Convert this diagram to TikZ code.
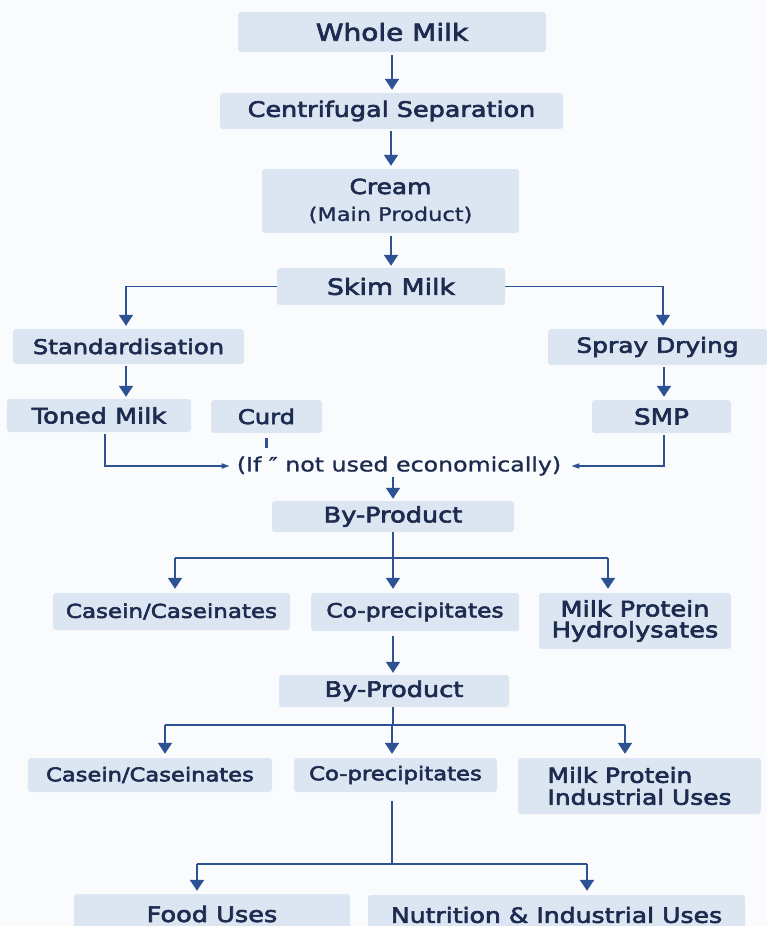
\documentclass[tikz,border=0pt]{standalone}
\usepackage{fontspec}
\setmainfont{DejaVu Sans}[FakeStretch=1.2, FakeBold=3]
\newfontfamily\reg{DejaVu Sans}[FakeStretch=1.2, FakeBold=1.2]
\usetikzlibrary{arrows.meta}
\definecolor{bg}{HTML}{FAFBFC}
\definecolor{boxfill}{HTML}{DCE6F2}
\definecolor{txt}{HTML}{1C2B4F}
\definecolor{arr}{HTML}{2C5294}
\newcommand\fs[2]{\fontsize{#1}{#2}\selectfont}
\begin{document}
\begin{tikzpicture}[x=1bp,y=-1bp,
  box/.style={fill=boxfill, rounded corners=3bp, inner sep=0pt, text=txt, align=center},
  conn/.style={draw=arr, line width=1.8bp},
  tip/.style={-{Triangle[width=14bp,length=11bp]}},
  stip/.style={-{Triangle[width=5bp,length=8bp]}}]
\fill[bg] (0,0) rectangle (767,926);
\useasboundingbox (0,0) rectangle (767,926);

% nodes
\node[box, minimum width=308bp, minimum height=40bp, font=\fs{23.4}{26}] (whole) at (392,32) {Whole Milk};
\node[box, minimum width=343bp, minimum height=36bp, font=\fs{21.3}{24}] (cent) at (391.5,111) {Centrifugal Separation};
\node[box, minimum width=257bp, minimum height=64bp, font=\fs{20.8}{27}] (cream) at (390.5,201) {Cream\\[0bp]{\reg\fs{18.8}{22}(Main Product)}};
\node[box, minimum width=228bp, minimum height=37bp, font=\fs{22.4}{24}] (skim) at (391,286.5) {Skim Milk};
\node[box, minimum width=231bp, minimum height=35bp, font=\fs{20.3}{22}] (stand) at (128.5,346.5) {Standardisation};
\node[box, minimum width=219bp, minimum height=36bp, font=\fs{20.8}{22}] (spray) at (657.5,347) {Spray Drying};
\node[box, minimum width=184bp, minimum height=33bp, font=\fs{21.4}{22}] (toned) at (99,415.5) {Toned Milk};
\node[box, minimum width=111bp, minimum height=33bp, font=\fs{20.3}{22}] (curd) at (266.5,416.5) {Curd};
\node[box, minimum width=139bp, minimum height=33bp, font=\fs{21.9}{22}] (smp) at (661.5,416.5) {SMP};
\node[inner sep=0pt, text=txt, font=\reg\fs{19.8}{22}] (cond) at (399,466) {(If ″ not used economically)};
\node[box, minimum width=242bp, minimum height=31bp, font=\fs{21.4}{22}] (by1) at (393,516.5) {By-Product};
\node[box, minimum width=237bp, minimum height=37bp, font=\fs{19.2}{21}] (casein1) at (171.5,611.5) {Casein/Caseinates};
\node[box, minimum width=208bp, minimum height=38bp, font=\fs{19.5}{21}] (coprec1) at (415,612) {Co-precipitates};
\node[box, minimum width=192bp, minimum height=56bp, font=\fs{21.4}{21}] (mph) at (635,621) {Milk Protein\\Hydrolysates};
\node[box, minimum width=230bp, minimum height=32bp, font=\fs{21.4}{22}] (by2) at (394,691) {By-Product};
\node[box, minimum width=244bp, minimum height=34bp, font=\fs{18.9}{21}] (casein2) at (150,775) {Casein/Caseinates};
\node[box, minimum width=203bp, minimum height=34bp, font=\fs{19}{21}] (coprec2) at (395.5,775) {Co-precipitates};
\node[box, minimum width=243bp, minimum height=56bp, align=left, font=\fs{20.8}{22}] (mpi) at (639.5,786) {Milk Protein\\Industrial Uses};
\node[box, minimum width=276bp, minimum height=40bp, font=\fs{21.4}{22}] (food) at (212,914) {Food Uses};
\node[box, minimum width=377bp, minimum height=40bp, font=\fs{21}{22}] (nutr) at (556.5,915) {Nutrition \& Industrial Uses};

% junction coordinates
\coordinate (j1) at (393,558);
\coordinate (j1l) at (175,558);
\coordinate (j1r) at (608,558);
\coordinate (j2) at (393,725);
\coordinate (j2l) at (165,725);
\coordinate (j2r) at (625,725);
\coordinate (j3) at (392,864);
\coordinate (j3l) at (197,864);
\coordinate (j3r) at (587,864);

% connectors
\draw[conn,tip,shorten <=3bp,shorten >=3bp] (whole.south) -- (whole.south |- cent.north);
\draw[conn,tip,shorten <=2bp,shorten >=3bp] (391,0 |- cent.south) -- (391,0 |- cream.north);
\draw[conn,tip,shorten <=3bp,shorten >=2bp] (391,0 |- cream.south) -- (391,0 |- skim.north);
\draw[conn,tip,shorten >=3bp] (skim.west) -| (126,0 |- stand.north);
\draw[conn,tip,shorten >=3bp] (skim.east) -| (663,0 |- spray.north);
\draw[conn,tip,shorten <=2bp,shorten >=2bp] (126,0 |- stand.south) -- (126,0 |- toned.north);
\draw[conn,tip,shorten <=2bp,shorten >=3bp] (664,0 |- spray.south) -- (664,0 |- smp.north);
\draw[conn,line width=1.6bp,stip,shorten <=2bp,shorten >=7bp] (105,0 |- toned.south) |- (cond.west);
\draw[conn,line width=1.6bp,stip,shorten <=2bp,shorten >=10bp] (664,0 |- smp.south) |- (cond.east);
\draw[conn,line width=2.2bp] ([yshift=-5bp]curd.south) -- ([yshift=-15bp]curd.south);
\draw[conn,tip,shorten <=1bp,shorten >=2bp] (393,0 |- cond.south) -- (393,0 |- by1.north);

\draw[conn] (393,0 |- by1.south) -- (j1);
\draw[conn] (j1l) -- (j1r);
\draw[conn,tip,shorten >=4bp] (j1l) -- (j1l |- casein1.north);
\draw[conn,tip,shorten >=4bp] (j1) -- (j1 |- coprec1.north);
\draw[conn,tip,shorten >=4bp] (j1r) -- (j1r |- mph.north);
\draw[conn,tip,shorten <=5bp,shorten >=2bp] (393,0 |- coprec1.south) -- (393,0 |- by2.north);

\draw[conn] (393,0 |- by2.south) -- (j2);
\draw[conn] (j2l) -- (j2r);
\draw[conn,tip,shorten >=4bp] (j2l) -- (j2l |- casein2.north);
\draw[conn,tip,shorten >=4bp] (392,725) -- (392,0 |- coprec2.north);
\draw[conn,tip,shorten >=4bp] (j2r) -- (j2r |- mpi.north);

\draw[conn,shorten <=9bp] (392,0 |- coprec2.south) -- (j3);
\draw[conn] (j3l) -- (j3r);
\draw[conn,tip,shorten >=3bp] (j3l) -- (j3l |- food.north);
\draw[conn,tip,shorten >=4bp] (j3r) -- (j3r |- nutr.north);
\end{tikzpicture}
\end{document}
